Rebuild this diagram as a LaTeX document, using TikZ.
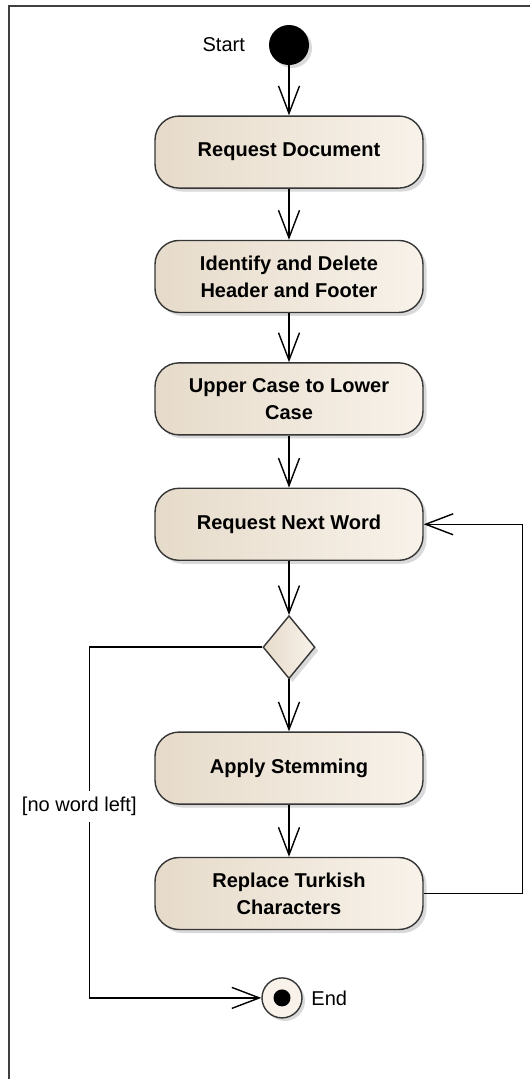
\documentclass[tikz,border=0pt]{standalone}
\usepackage{fontspec}
\setmainfont{Liberation Sans}
\usepackage{tikz}
\usetikzlibrary{
    arrows.meta,
    positioning,
    shapes.geometric,
    shadows
}
\definecolor{actleft}{HTML}{E6DBCA}
\definecolor{actright}{HTML}{F8F2EA}
\definecolor{actline}{HTML}{363636}

\begin{document}
\begin{tikzpicture}[
    activity/.style={
        rectangle,
        draw=actline,
        line width=0.8pt,
        rounded corners=0.48cm,
        left color=actleft,
        right color=actright,
        drop shadow={shadow xshift=0.07cm, shadow yshift=-0.07cm, opacity=0.3},
        align=center,
        minimum width=5.36cm,
        minimum height=1.44cm,
        font=\fontsize{11.4}{15.4}\selectfont\bfseries
    },
    decision/.style={
        diamond,
        draw=actline,
        line width=0.8pt,
        left color=actleft,
        right color=actright,
        drop shadow={shadow xshift=0.07cm, shadow yshift=-0.07cm, opacity=0.3},
        inner sep=0pt,
        minimum width=1.04cm,
        minimum height=1.26cm
    },
    initial/.style={
        circle,
        fill=black,
        inner sep=0pt,
        minimum size=0.8cm,
        drop shadow={shadow xshift=0.06cm, shadow yshift=-0.06cm, opacity=0.3}
    },
    final/.style={
        circle,
        draw=actline,
        line width=0.8pt,
        fill=actright,
        inner sep=0pt,
        minimum size=0.8cm,
        drop shadow={shadow xshift=0.06cm, shadow yshift=-0.06cm, opacity=0.3}
    },
    lbl/.style={
        font=\fontsize{11.4}{14}\selectfont
    },
    arrow/.style={
        -{Straight Barb[length=0.55cm, width=0.42cm]},
        line width=0.8pt
    }
]
\useasboundingbox (0,0) rectangle (10.6,-21.58);

% Rahmen
\draw[line width=0.9pt, black!75] (0.18,-21.58) |- (10.6,-0.12);

\node[initial] (start) at (5.78,-0.9) {};
\node[lbl, left=0.35cm of start] (startlbl) {Start};
\node[activity, below=1.0cm of start] (request) {Request Document};
\node[activity, below=1.02cm of request] (header) {Identify and Delete\\Header and Footer};
\node[activity, below=0.98cm of header] (lower) {Upper Case to Lower\\Case};
\node[activity, below=1.04cm of lower] (nextword) {Request Next Word};
\node[decision, below=1.08cm of nextword] (wordleft) {};
\node[activity, below=1.04cm of wordleft] (stemming) {Apply Stemming};
\node[activity, below=1.04cm of stemming] (turkish) {Replace Turkish\\Characters};
\node[final, below=0.94cm of turkish, xshift=-0.14cm] (finish) {};
\node[circle, fill=black, inner sep=0pt, minimum size=0.34cm] (finishdot) at (finish) {};
\node[lbl, right=0.05cm of finish] (finishlbl) {End};

% Hauptfluss
\draw[arrow] (start) -- (request);
\draw[arrow] (request) -- (header);
\draw[arrow] (header) -- (lower);
\draw[arrow] (lower) -- (nextword);
\draw[arrow] (nextword) -- (wordleft);
\draw[arrow] (wordleft) -- (stemming);
\draw[arrow] (stemming) -- (turkish);

% Schleife
\draw[arrow] (turkish.east) -- ++(1.98,0) |- (nextword.east);

% Ende
\draw[arrow] (wordleft.west) -- ++(-3.46,0) |- node[lbl, pos=0.227, fill=white, xshift=-0.2cm]{[no word left]} (finish.west);

\end{tikzpicture}
\end{document}
